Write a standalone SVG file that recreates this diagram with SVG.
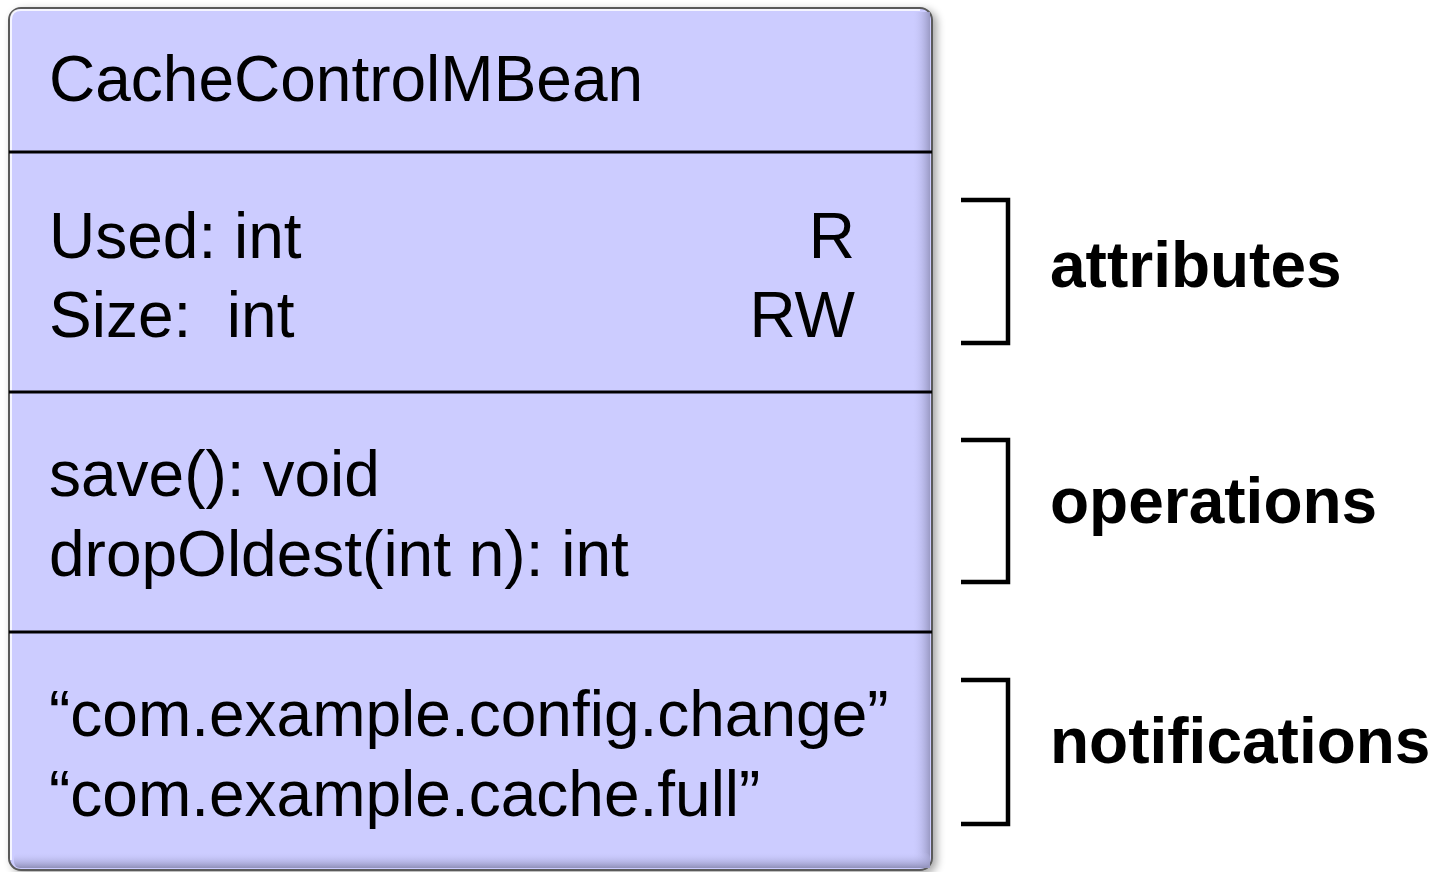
<svg xmlns="http://www.w3.org/2000/svg" width="1437" height="872" viewBox="0 0 1437 872">
<defs>
<filter id="sh" x="-5%" y="-5%" width="112%" height="112%">
<feGaussianBlur in="SourceAlpha" stdDeviation="4"/>
<feOffset dx="4" dy="3"/>
<feComponentTransfer><feFuncA type="linear" slope="0.35"/></feComponentTransfer>
<feMerge><feMergeNode/><feMergeNode in="SourceGraphic"/></feMerge>
</filter>
<linearGradient id="rg" x1="0" y1="0" x2="1" y2="0">
<stop offset="0" stop-color="#ccccff" stop-opacity="0"/>
<stop offset="1" stop-color="#9a9ac4"/>
</linearGradient>
<linearGradient id="bg" x1="0" y1="0" x2="0" y2="1">
<stop offset="0" stop-color="#ccccff" stop-opacity="0"/>
<stop offset="1" stop-color="#8f8fb8"/>
</linearGradient>
</defs>
<style>
.t{font-family:"Liberation Sans",Arial,sans-serif;font-size:64px;fill:#000}
.b{font-family:"Liberation Sans",Arial,sans-serif;font-size:64px;font-weight:bold;fill:#000}
.div{stroke:#000;stroke-width:3}
.br{fill:none;stroke:#000;stroke-width:4.5}
</style>
<rect width="1437" height="872" fill="#fff"/>
<g id="mbean">
<rect x="9" y="8" width="923" height="862" rx="12" fill="#ccccff" stroke="#5a5a5a" stroke-width="2" filter="url(#sh)"/>
<rect x="912" y="12" width="18" height="856" fill="url(#rg)"/>
<rect x="14" y="852" width="916" height="16" rx="6" fill="url(#bg)"/>
<path d="M11 860 V20 Q11 10 21 10 H920" fill="none" stroke="#fff" stroke-width="2" opacity="0.8"/>
<line class="div" x1="9" y1="152" x2="932" y2="152"/>
<line class="div" x1="9" y1="392" x2="932" y2="392"/>
<line class="div" x1="9" y1="632" x2="932" y2="632"/>
<text class="t" x="49" y="101">CacheControlMBean</text>
<text class="t" x="49" y="258">Used: int</text>
<text class="t" x="49" y="337" xml:space="preserve">Size:  int</text>
<text class="t" x="855" y="258" text-anchor="end">R</text>
<text class="t" x="855" y="337" text-anchor="end">RW</text>
<text class="t" x="49" y="496">save(): void</text>
<text class="t" x="49" y="576">dropOldest(int n): int</text>
<text class="t" x="49" y="736">“com.example.config.change”</text>
<text class="t" x="49" y="816">“com.example.cache.full”</text>
</g>
<g id="attributes">
<path class="br" d="M961 200 H1008 V343 H961"/>
<text class="b" x="1050" y="287">attributes</text>
</g>
<g id="operations">
<path class="br" d="M961 440 H1008 V582 H961"/>
<text class="b" x="1050" y="523">operations</text>
</g>
<g id="notifications">
<path class="br" d="M961 680 H1008 V824 H961"/>
<text class="b" x="1050" y="763">notifications</text>
</g>
<g id="connectors"/>
</svg>
